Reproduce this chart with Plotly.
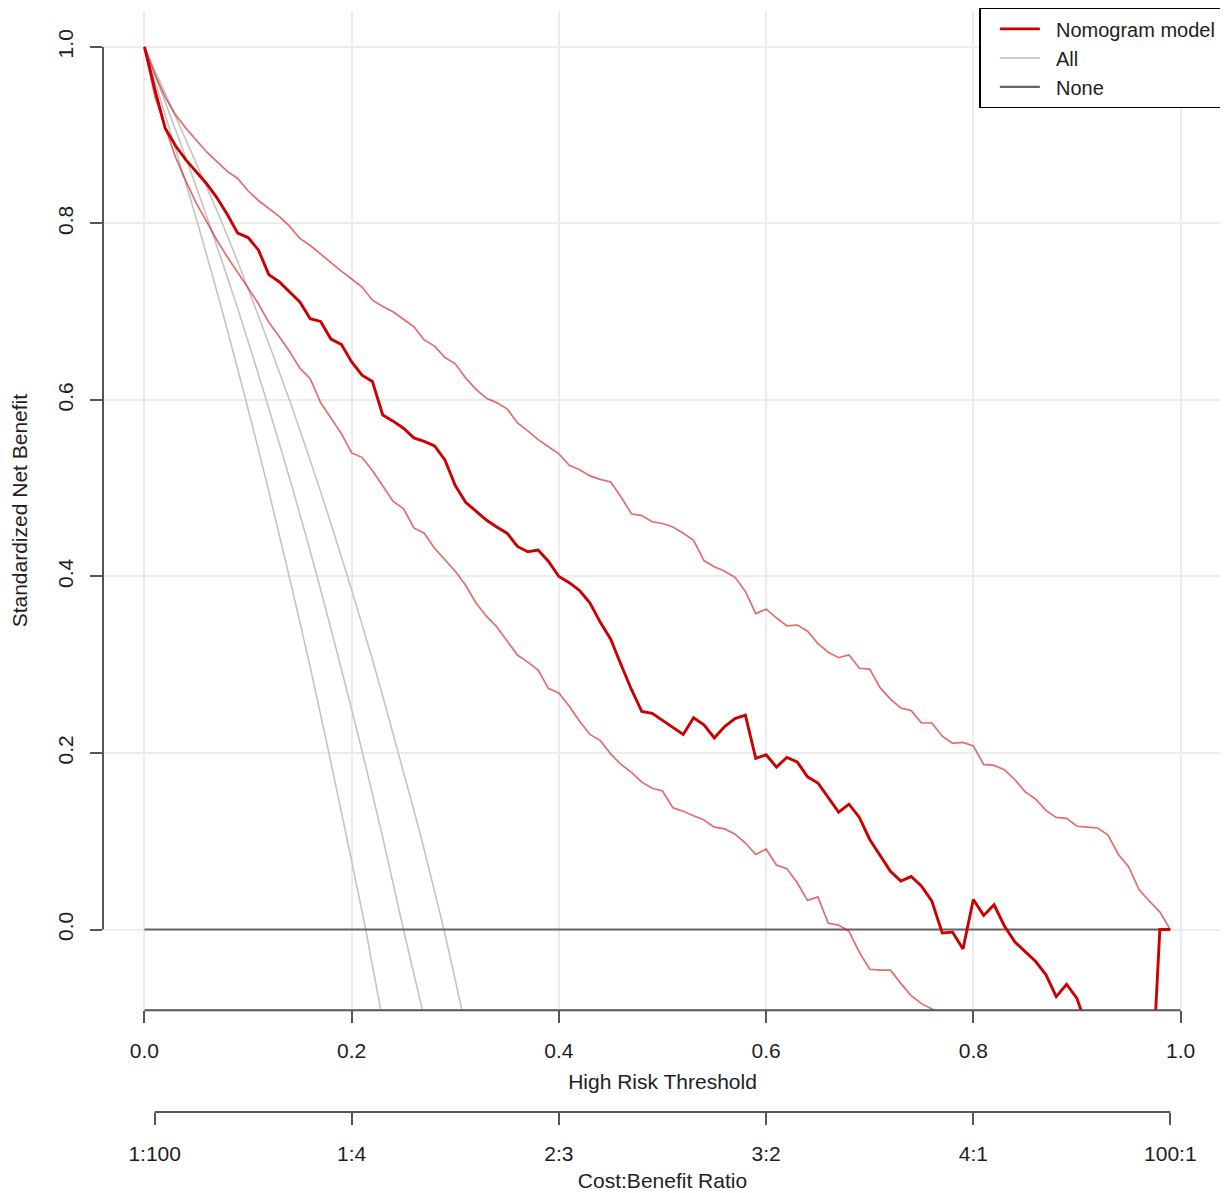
import plotly.graph_objects as go

# thresholds at 0.01 steps
thresholds = [round(i * 0.01, 2) for i in range(100)]

# standardized net benefit of the nomogram
model_nb = [1.000, 0.952, 0.908, 0.888, 0.872, 0.858, 0.845, 0.829, 0.810, 0.789,
            0.784, 0.770, 0.742, 0.734, 0.722, 0.711, 0.692, 0.689, 0.669, 0.663,
            0.643, 0.628, 0.621, 0.583, 0.576, 0.568, 0.557, 0.553, 0.548, 0.532,
            0.503, 0.484, 0.474, 0.464, 0.456, 0.449, 0.434, 0.428, 0.430, 0.417,
            0.400, 0.393, 0.384, 0.370, 0.348, 0.329, 0.300, 0.272, 0.247, 0.245,
            0.237, 0.229, 0.221, 0.240, 0.232, 0.217, 0.230, 0.239, 0.243, 0.194,
            0.198, 0.184, 0.195, 0.190, 0.173, 0.166, 0.150, 0.133, 0.142, 0.127,
            0.102, 0.084, 0.066, 0.055, 0.060, 0.049, 0.032, -0.004, -0.003, -0.022,
            0.034, 0.016, 0.028, 0.004, -0.014, -0.025, -0.036, -0.051, -0.076, -0.062,
            -0.078, -0.112, -0.130, -0.150, -0.170, -0.190, -0.210, -0.230, 0.000, 0.000]

model_upper = [1.000, 0.969, 0.943, 0.923, 0.908, 0.894, 0.881, 0.870, 0.859, 0.851,
               0.837, 0.826, 0.817, 0.808, 0.797, 0.783, 0.775, 0.765, 0.755, 0.746,
               0.737, 0.728, 0.713, 0.706, 0.700, 0.692, 0.683, 0.668, 0.661, 0.648,
               0.641, 0.625, 0.612, 0.602, 0.597, 0.590, 0.574, 0.565, 0.555, 0.547,
               0.539, 0.526, 0.521, 0.514, 0.510, 0.507, 0.490, 0.471, 0.469, 0.462,
               0.460, 0.456, 0.449, 0.441, 0.418, 0.411, 0.406, 0.399, 0.383, 0.358,
               0.363, 0.353, 0.344, 0.345, 0.338, 0.324, 0.314, 0.308, 0.311, 0.296,
               0.295, 0.274, 0.261, 0.251, 0.248, 0.234, 0.234, 0.219, 0.211, 0.212,
               0.208, 0.187, 0.186, 0.181, 0.170, 0.156, 0.148, 0.135, 0.127, 0.126,
               0.117, 0.116, 0.115, 0.107, 0.085, 0.071, 0.045, 0.032, 0.020, 0.000]

lower_thresholds = thresholds[:81]
model_lower = [1.000, 0.944, 0.909, 0.875, 0.848, 0.823, 0.802, 0.781, 0.762, 0.745,
               0.727, 0.709, 0.688, 0.672, 0.655, 0.636, 0.624, 0.597, 0.580, 0.562,
               0.540, 0.535, 0.520, 0.503, 0.485, 0.477, 0.455, 0.449, 0.432, 0.419,
               0.406, 0.390, 0.370, 0.355, 0.343, 0.327, 0.311, 0.303, 0.294, 0.273,
               0.268, 0.253, 0.236, 0.221, 0.214, 0.199, 0.187, 0.178, 0.167, 0.160,
               0.157, 0.138, 0.134, 0.129, 0.124, 0.116, 0.114, 0.108, 0.098, 0.085,
               0.091, 0.073, 0.069, 0.053, 0.033, 0.037, 0.007, 0.005, -0.002, -0.026,
               -0.045, -0.046, -0.046, -0.061, -0.075, -0.084, -0.090, -0.096, -0.105, -0.115,
               -0.125]

# treat-all curves (estimate and CI bounds)
all_nb = [1.0, 0.90, 0.80, 0.70, 0.60, 0.50, 0.40, 0.30, 0.20, 0.10, 0.0, -0.10]
all_low_x = [0.0, 0.026, 0.0514, 0.0753, 0.0978, 0.1193, 0.1397, 0.1595, 0.178, 0.196, 0.2135, 0.2295]
all_mid_x = [0.0, 0.032, 0.0625, 0.0910, 0.1176, 0.1429, 0.1667, 0.1890, 0.2105, 0.2308, 0.2500, 0.2700]
all_high_x = [0.0, 0.038, 0.0752, 0.1085, 0.1400, 0.1690, 0.1960, 0.2215, 0.2450, 0.2680, 0.2890, 0.3080]

none_x = [0.0, 0.99]
none_y = [0.0, 0.0]

x_ticks = [0.0, 0.2, 0.4, 0.6, 0.8, 1.0]
x_labels = ["0.0", "0.2", "0.4", "0.6", "0.8", "1.0"]
y_ticks = [0.0, 0.2, 0.4, 0.6, 0.8, 1.0]
y_labels = ["0.0", "0.2", "0.4", "0.6", "0.8", "1.0"]
ratio_ticks = [0.0099, 0.2, 0.4, 0.6, 0.8, 0.9901]
ratio_labels = ["1:100", "1:4", "2:3", "3:2", "4:1", "100:1"]

RED = "rgb(204,0,0)"
RED_CI = "rgba(210,20,20,0.62)"
GREY_ALL = "#c4c4c4"
GREY_NONE = "#666666"
AXIS = "#555555"
TEXT = "#1e1e1e"
FONT = "Liberation Sans, Arial, sans-serif"
SP = "\u00a0\u00a0"  # small gap between legend line and label

fig = go.Figure()

for i, xs in enumerate([all_low_x, all_mid_x, all_high_x]):
    fig.add_trace(go.Scatter(x=xs, y=all_nb, mode="lines", name=SP + "All",
                             line=dict(color=GREY_ALL, width=1.6, shape="spline", smoothing=0.6),
                             showlegend=(i == 1), legendrank=2, hoverinfo="skip"))

fig.add_trace(go.Scatter(x=none_x, y=none_y, mode="lines", name=SP + "None",
                         line=dict(color=GREY_NONE, width=2.2), legendrank=3))

fig.add_trace(go.Scatter(x=thresholds, y=model_upper, mode="lines", showlegend=False,
                         line=dict(color=RED_CI, width=1.7)))
fig.add_trace(go.Scatter(x=lower_thresholds, y=model_lower, mode="lines", showlegend=False,
                         line=dict(color=RED_CI, width=1.7)))
fig.add_trace(go.Scatter(x=thresholds, y=model_nb, mode="lines", name=SP + "Nomogram model",
                         line=dict(color=RED, width=2.9), legendrank=1))

# dummy trace so the cost:benefit axis is drawn
fig.add_trace(go.Scatter(x=ratio_ticks, y=[None] * len(ratio_ticks), xaxis="x2",
                         showlegend=False, hoverinfo="skip"))

y_bottom = 0.1054   # bottom of plotting region (paper)
ratio_pos = 0.0143  # position of the second x axis (paper)

axis_common = dict(showline=False, zeroline=False, ticks="outside", ticklen=12,
                   tickwidth=2, tickcolor=AXIS, automargin=False,
                   tickfont=dict(family=FONT, size=21, color=TEXT))
title_font = dict(family=FONT, size=21, color=TEXT)

fig.update_layout(
    width=1220, height=1185,
    margin=dict(l=95, r=6, t=0, b=65),
    plot_bgcolor="white", paper_bgcolor="white",
    font=dict(family=FONT, size=21, color=TEXT),
    xaxis=dict(range=[-0.04, 1.04], tickvals=x_ticks, ticktext=x_labels,
               showgrid=True, gridcolor="#ececec", gridwidth=1.5,
               ticklabelstandoff=10,
               title=dict(text="High Risk Threshold", standoff=12, font=title_font),
               **axis_common),
    yaxis=dict(range=[-0.0915, 1.0407], domain=[y_bottom, 1], tickvals=y_ticks,
               ticktext=y_labels, tickangle=-90, showgrid=True, gridcolor="#ececec",
               gridwidth=1.5, ticklabelstandoff=9,
               title=dict(text="Standardized Net Benefit", standoff=28, font=title_font),
               **axis_common),
    xaxis2=dict(range=[-0.04, 1.04], overlaying="x", anchor="free", position=ratio_pos,
                side="bottom", tickvals=ratio_ticks, ticktext=ratio_labels,
                showgrid=False, ticklabelstandoff=11,
                title=dict(text="Cost:Benefit Ratio", standoff=9, font=title_font),
                **axis_common),
    legend=dict(x=0.9995, y=1.0027, xanchor="right", yanchor="top",
                bgcolor="white", bordercolor="black", borderwidth=1.4,
                font=dict(family=FONT, size=20, color=TEXT),
                itemwidth=40, indentation=14, tracegroupgap=0),
    showlegend=True,
)

# R-style axis lines that run only between the outer ticks
fig.add_shape(type="line", xref="paper", yref="y", x0=0, x1=0, y0=0, y1=1,
              line=dict(color=AXIS, width=2))
fig.add_shape(type="line", xref="x", yref="paper", x0=0, x1=1, y0=y_bottom, y1=y_bottom,
              line=dict(color=AXIS, width=2))
fig.add_shape(type="line", xref="x", yref="paper", x0=ratio_ticks[0], x1=ratio_ticks[-1],
              y0=ratio_pos, y1=ratio_pos, line=dict(color=AXIS, width=2))

fig.write_html("out.html", config={"displayModeBar": False})
